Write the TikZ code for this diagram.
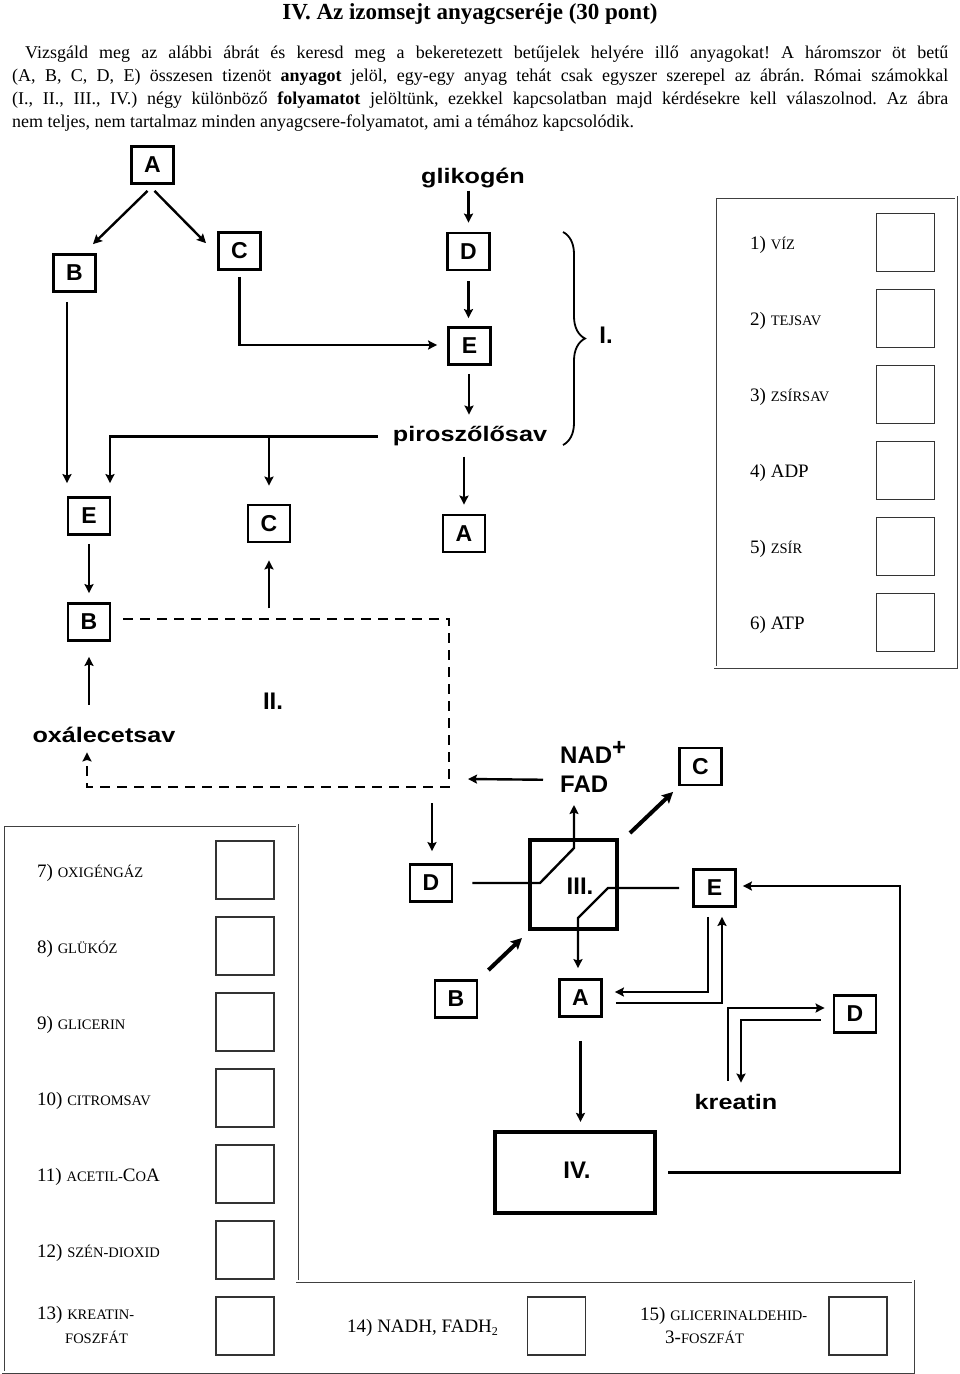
\documentclass[tikz,border=0pt]{standalone}
\usepackage{fontspec}
\setmainfont{Liberation Serif}
\newfontfamily\lsans{Liberation Sans}[FakeStretch=1.2]
\newfontfamily\lsansn{Liberation Sans}
\usetikzlibrary{arrows.meta,calc,decorations.pathreplacing}
\newcommand\smc[1]{{\fontsize{14.5}{15}\selectfont #1}}
\newcommand\lblfont{\fontsize{19}{21}\selectfont}
\newcommand\dgmfont{\lsans\bfseries\fontsize{21}{23}\selectfont}
\newcommand\boxfont{\lsansn\bfseries\fontsize{23}{25}\selectfont}
\newcommand\numfont{\lsansn\bfseries\fontsize{24}{26}\selectfont}
\newcommand\bodyfont{\fontsize{18}{23}\selectfont}
\frenchspacing
\begin{document}
\begin{tikzpicture}[x=1pt,y=-1pt,
  lbox/.style={draw, line width=2.8pt, minimum width=42pt, minimum height=37pt, inner sep=0pt, font=\boxfont},
  pbox/.style={draw, line width=4pt, inner sep=0pt},
  conn/.style={line width=2.4pt},
  arr/.style={line width=2.4pt, -{Stealth[length=9pt,width=9pt,inset=1.5pt]}},
  tarr/.style={line width=4pt, -{Stealth[length=11pt,width=11pt,inset=2pt]}},
  dsh/.style={line width=2.6pt, dash pattern=on 10pt off 7pt},
  dtxt/.style={font=\dgmfont, inner sep=0pt, anchor=base},
  ntxt/.style={font=\numfont, inner sep=0pt, anchor=base},
  ans/.style={draw=black!80, line width=1.3pt, minimum width=58pt, minimum height=58pt, inner sep=0pt},
  frm/.style={draw=black!75, line width=0.8pt, double=white, double distance=1.4pt},
  lab/.style={font=\lblfont, inner sep=0pt, anchor=base west},
  body/.style={font=\bodyfont, inner sep=0pt, anchor=base west},
]
\useasboundingbox (0,0) rectangle (960,1374);

% ---------- heading ----------
\node[font=\bfseries\fontsize{23}{25}\selectfont, inner sep=0pt, anchor=base] (title) at (470,19) {IV. Az izomsejt anyagcseréje (30 pont)};
\node[body] (t1) at (25,58) {\makebox[923pt][s]{Vizsgáld meg az alábbi ábrát és keresd meg a bekeretezett betűjelek helyére illő anyagokat! A háromszor öt betű}};
\node[body] (t2) at (12,81) {\makebox[936pt][s]{(A, B, C, D, E) összesen tizenöt \textbf{anyagot} jelöl, egy-egy anyag tehát csak egyszer szerepel az ábrán. Római számokkal}};
\node[body] (t3) at (12,104) {\makebox[936pt][s]{(I., II., III., IV.) négy különböző \textbf{folyamatot} jelöltünk, ezekkel kapcsolatban majd kérdésekre kell válaszolnod. Az ábra}};
\node[body] (t4) at (12,127) {nem teljes, nem tartalmaz minden anyagcsere-folyamatot, ami a témához kapcsolódik.};

% ---------- boxes ----------
\node[lbox] (A1) at (152.5,165) {A};
\node[lbox] (B1) at (74.5,273) {B};
\node[lbox] (C1) at (239.5,251) {C};
\node[lbox] (D1) at (468.5,251.5) {D};
\node[lbox] (E1) at (469.5,346) {E};
\node[lbox] (E2) at (89,516) {E};
\node[lbox] (C2) at (269,523.5) {C};
\node[lbox] (A2) at (464,533.5) {A};
\node[lbox] (B2) at (89,622) {B};
\node[lbox] (D3) at (431,883) {D};
\node[lbox] (C3) at (700.5,766.5) {C};
\node[lbox] (E3) at (714.5,888) {E};
\node[lbox] (B3) at (456,999) {B};
\node[lbox] (A3) at (580.5,998) {A};
\node[lbox] (D4) at (855,1014) {D};
\node[pbox, minimum width=87pt, minimum height=89pt] (iii) at (573.5,884.5) {};
\node[pbox, minimum width=160pt, minimum height=81pt] (iv) at (575,1172.5) {};

% ---------- texts ----------
\node[dtxt] (gl) at (473,183) {glikogén};
\node[dtxt] (pir) at (470,441) {piroszőlősav};
\node[dtxt] (ox) at (104,742) {oxálecetsav};
\node[dtxt] (kr) at (736,1109) {kreatin};
\node[ntxt, anchor=base west] (nad) at (560,763) {NAD\raisebox{8pt}{+}};
\node[ntxt, anchor=base west] (fad) at (560,792) {FAD};
\node[ntxt] (l1) at (606,343) {I.};
\node[ntxt] (l2) at (273,709) {II.};
\node[ntxt] (l3) at (580,894) {III.};
\node[ntxt] (l4) at (577,1178) {IV.};

% ---------- connectors ----------
\draw[arr] ($(A1.south)+(-5,6)$) -- ($(B1.north)+(18.5,-9)$);
\draw[arr] ($(A1.south)+(2,6)$) -- ($(C1.north)+(-33.5,12)$);
\draw[arr] ($(B1.south)+(-7.5,9)$) -- ($(E2.north)+(-22,-13)$);
\draw[arr] ($(C1.south)+(0,6)$) |- ($(E1.west)+(-10,-1)$);
\draw[arr] ($(gl.south -| D1.north)+(0,3)$) -- ($(D1.north)+(0,-9)$);
\draw[arr] ($(D1.south)+(0,10)$) -- ($(E1.north)+(-1,-8)$);
\draw[arr] ($(E1.south)+(-0.5,8)$) -- ($(pir.north -| E1.south)+(-0.5,-11)$);
\coordinate (pL) at ($(pir.west)+(-15,1)$);
\draw[arr] (pL) -| ($(E2.north)+(21,-13)$);
\draw[arr] (pL -| C2.north) -- ($(C2.north)+(0,-18)$);
\draw[arr] ($(A2.north)+(0,-57)$) -- ($(A2.north)+(0,-9)$);
\draw[arr] ($(E2.south)+(0,8)$) -- ($(B2.north)+(0,-9)$);
\draw[arr] ($(C2.south)+(0,65)$) -- ($(C2.south)+(0,17)$);
\coordinate (dc) at (449,787);
\draw[dsh, -{Stealth[length=9pt,width=9pt,inset=1.5pt]}] ($(B2.east)+(12,-3)$) -| (dc) -| ($(ox.south -| B2.south)+(-2,10)$);
\draw[arr] ($(B2.south)+(0,63)$) -- ($(B2.south)+(0,15)$);
\draw[arr] ($(fad.west)+(-17,-4)$) -- ($(dc)+(19,-8)$);
\draw[arr] ($(D3.north)+(1,-60)$) -- ($(D3.north)+(1,-12)$);
\draw[arr] ($(D3.east)+(19,0)$) -- ($(iii.center)+(-33.5,-1.5)$) -- ($(iii.center)+(0.5,-36.5)$) -- ($(iii.center)+(0.5,-79.5)$);
\draw[arr] ($(E3.west)+(-13,0)$) -- ($(iii.center)+(34.5,3.5)$) -- ($(iii.center)+(4.5,33.5)$) -- ($(A3.north)+(-2.5,-10)$);
\draw[tarr] ($(iii.north east)+(11,-5)$) -- ($(C3.south west)+(-5,5.5)$);
\draw[tarr] ($(B3.north east)+(10,-9)$) -- ($(iii.south west)+(-6,7)$);
\draw[arr] ($(A3.south)+(0,23)$) -- ($(A3.south)+(0,104)$);
\coordinate (rc) at (900,886);
\draw[arr] ($(iv.east)+(11,0)$) -| (rc) -- ($(E3.east)+(6,-2)$);
\draw[arr] ($(E3.south)+(-6.5,9)$) |- ($(A3.east)+(12,-6)$);
\draw[arr] ($(A3.east)+(13,5)$) -| ($(E3.south)+(7.5,9)$);
\draw[arr] ($(kr.north)+(-8,-13)$) |- ($(D4.west)+(-8,-6)$);
\draw[arr] ($(D4.west)+(-12,6)$) -| ($(kr.north)+(5,-11)$);
\draw[line width=1.8pt, decorate, decoration={brace, amplitude=22pt, aspect=0.5}] (563,232) -- (563,445);

% ---------- answer panel 1-6 ----------
\draw[frm] (715,197) rectangle (956,667);
\foreach \k in {0,...,5} { \node[ans] (s\k) at (905.5,242.5+76*\k) {}; }
\node[lab] (q1) at (750,249) {1) \smc{VÍZ}};
\node[lab] (q2) at (750,325) {2) \smc{TEJSAV}};
\node[lab] (q3) at (750,401) {3) \smc{ZSÍRSAV}};
\node[lab] (q4) at (750,477) {4) ADP};
\node[lab] (q5) at (750,553) {5) \smc{ZSÍR}};
\node[lab] (q6) at (750,629) {6) ATP};

% ---------- answer panel 7-15 ----------
\draw[frm] (3,825) -- (297,825) -- (297,1281) -- (913,1281) -- (913,1372) -- (3,1372) -- cycle;
\foreach \k in {0,...,6} { \node[ans] (r\k) at (245,870+76*\k) {}; }
\node[ans] (r14) at (556.5,1326) {};
\node[ans] (r15) at (858,1326) {};
\node[lab] (q7) at (37,877) {7) \smc{OXIGÉNGÁZ}};
\node[lab] (q8) at (37,953) {8) \smc{GLÜKÓZ}};
\node[lab] (q9) at (37,1029) {9) \smc{GLICERIN}};
\node[lab] (q10) at (37,1105) {10) \smc{CITROMSAV}};
\node[lab] (q11) at (37,1181) {11) \smc{ACETIL-}C\smc{O}A};
\node[lab] (q12) at (37,1257) {12) \smc{SZÉN-DIOXID}};
\node[lab] (q13) at (37,1319) {13) \smc{KREATIN-}};
\node[lab] (q13b) at (65,1343) {\smc{FOSZFÁT}};
\node[lab] (q14) at (347,1332) {14) NADH, FADH\raisebox{-3pt}{\fontsize{12}{12}\selectfont 2}};
\node[lab] (q15) at (640,1320) {15) \smc{GLICERINALDEHID-}};
\node[lab] (q15b) at (665,1343) {3-\smc{FOSZFÁT}};
\end{tikzpicture}
\end{document}
